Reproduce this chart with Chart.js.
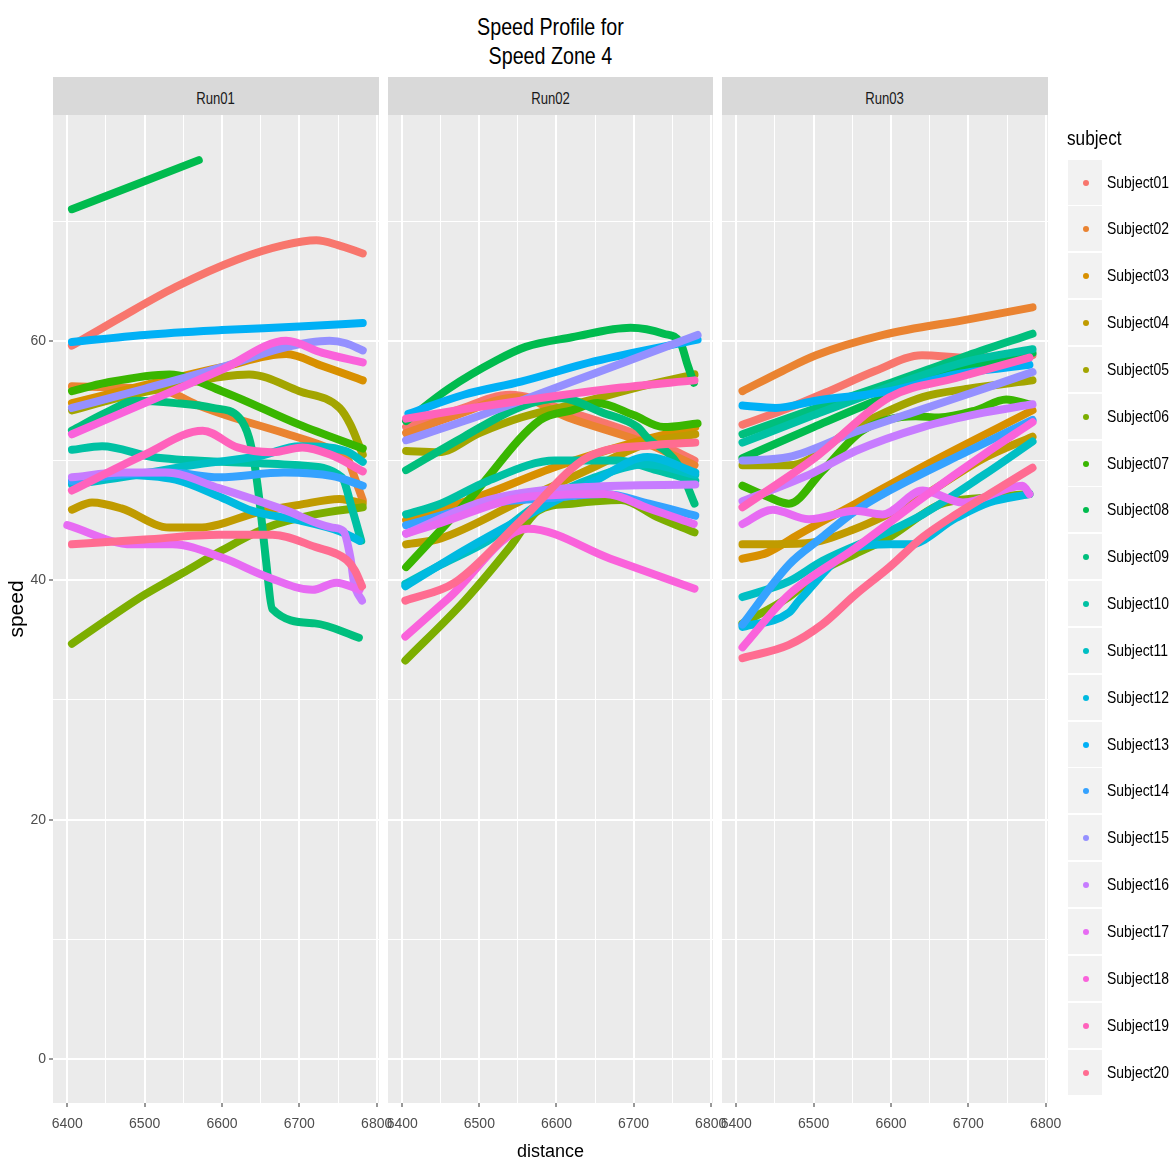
<!DOCTYPE html>
<html>
<head>
<meta charset="utf-8">
<script src="https://cdn.jsdelivr.net/npm/chart.js@4.4.1/dist/chart.umd.min.js"></script>
<style>
  body { margin: 0; background: #ffffff; }
  #page { position: relative; width: 1175px; height: 1163px; overflow: hidden;
          font-family: 'Liberation Sans', Arial, sans-serif; }
  canvas { position: absolute; top: 115px; }
  .sq { display: inline-block; transform: scaleX(0.82); white-space: nowrap; }
  .title { position: absolute; left: 53px; width: 995px; top: 12px; text-align: center;
           font-size: 24px; line-height: 29px; color: #000; }
  .title .sq { transform-origin: center; }
  .strip { position: absolute; top: 77px; height: 38px; line-height: 44px; background: #D9D9D9;
           text-align: center; font-size: 16px; color: #1A1A1A; overflow: hidden; }
  .legend { position: absolute; left: 1067px; top: 125.5px; }
  .legend .head { font-size: 21px; height: 33px; color: #000; transform-origin: left; }
  .legend .row { position: relative; height: 46.85px; }
  .legend .key { position: absolute; left: 1px; top: 1px; width: 34px; height: 45px; background: #F2F2F2; }
  .legend .dot { position: absolute; left: 15px; top: 20px; width: 6px; height: 6px; border-radius: 50%; }
  .legend .lab { position: absolute; left: 40px; top: 0; line-height: 47px; font-size: 17px; color: #000;
                 transform-origin: left; }
</style>
</head>
<body>
<div id="page">
  <div class="title"><span class="sq">Speed Profile for</span><br><span class="sq">Speed Zone 4</span></div>
  <div class="strip" style="left:53px;width:326px"><span class="sq">Run01</span></div>
  <div class="strip" style="left:388px;width:325px"><span class="sq">Run02</span></div>
  <div class="strip" style="left:722px;width:326px"><span class="sq">Run03</span></div>
  <canvas id="run1" width="400" height="1048" style="left:0px"></canvas>
  <canvas id="run2" width="370" height="1048" style="left:370px"></canvas>
  <canvas id="run3" width="370" height="1048" style="left:704px"></canvas>
  <div class="legend" id="legend"><div class="head sq">subject</div></div>
</div>
<script>
/* ---------- subjects, runs, colours ---------- */
const subjects = ["Subject01","Subject02","Subject03","Subject04","Subject05","Subject06","Subject07",
  "Subject08","Subject09","Subject10","Subject11","Subject12","Subject13","Subject14","Subject15",
  "Subject16","Subject17","Subject18","Subject19","Subject20"];
const runs = ["Run01", "Run02", "Run03"];
const subjectColors = ["#F8766D","#EA8331","#D89000","#C09B00","#A3A500","#7CAE00","#39B600",
  "#00BB4E","#00BF7D","#00C1A3","#00BFC4","#00BAE0","#00B0F6","#35A2FF","#9590FF",
  "#C77CFF","#E76BF3","#FA62DB","#FF62BC","#FF6C91"];

/* ---------- axis ticks ---------- */
const xTicks = [6400, 6500, 6600, 6700, 6800];
const yTicks = [0, 20, 40, 60];

/* ---------- [distance, speed] per subject, Run01 ---------- */
const run01 = [
  [[6406,59.6],[6470,62.0],[6540,64.5],[6620,66.8],[6680,68.0],[6722,68.4],[6750,68.0],[6782,67.3]],
  [[6406,56.2],[6470,56.1],[6528,55.8],[6570,54.6],[6614,53.6],[6680,52.3],[6743,50.9],[6762,50.2],[6772,48.5],[6782,46.7]],
  [[6406,54.8],[6500,56.3],[6600,57.8],[6683,58.9],[6730,57.9],[6782,56.7]],
  [[6406,45.9],[6432,46.5],[6470,46.0],[6532,44.4],[6570,44.4],[6648,45.7],[6700,46.3],[6752,46.8],[6782,46.4]],
  [[6406,54.2],[6470,55.3],[6550,56.4],[6600,57.0],[6635,57.2],[6700,55.8],[6752,54.4],[6766,53.0],[6782,50.5]],
  [[6406,34.7],[6500,38.8],[6549,40.6],[6600,42.5],[6658,44.4],[6720,45.5],[6782,46.1]],
  [[6406,55.8],[6450,56.5],[6532,57.2],[6600,55.8],[6700,53.0],[6782,51.0]],
  [[6406,71.0],[6570,75.1]],
  [[6406,52.5],[6450,54.0],[6488,55.0],[6540,54.8],[6588,54.4],[6622,53.6],[6635,51.9],[6642,49.7],[6648,46.9],[6657,41.6],[6665,37.6],[6720,36.4],[6777,35.2]],
  [[6406,50.9],[6445,51.2],[6510,50.3],[6600,49.9],[6700,49.6],[6755,48.6],[6768,46.0],[6780,43.3]],
  [[6406,48.0],[6470,48.6],[6560,49.6],[6650,50.4],[6700,51.2],[6760,50.8],[6782,49.9]],
  [[6406,48.2],[6470,48.8],[6540,48.4],[6600,46.9],[6639,45.8],[6700,45.0],[6752,44.1],[6778,43.3]],
  [[6406,59.9],[6500,60.5],[6600,60.9],[6700,61.2],[6782,61.5]],
  [[6406,48.3],[6480,48.9],[6532,49.0],[6596,48.6],[6680,49.0],[6743,48.7],[6782,47.9]],
  [[6406,54.4],[6500,56.0],[6600,57.8],[6678,59.4],[6739,60.0],[6760,59.8],[6782,59.2]],
  [[6406,48.6],[6470,49.0],[6527,49.0],[6596,47.7],[6680,45.9],[6743,44.4],[6757,44.1],[6766,41.9],[6771,39.7],[6781,38.3]],
  [[6400,44.6],[6484,43.0],[6536,43.0],[6600,41.9],[6658,40.3],[6717,39.2],[6748,39.8],[6778,39.2]],
  [[6406,52.2],[6500,54.8],[6600,57.6],[6683,60.0],[6730,59.0],[6782,58.2]],
  [[6406,47.5],[6500,50.5],[6575,52.5],[6620,51.1],[6665,50.7],[6704,51.1],[6740,50.5],[6782,49.1]],
  [[6406,43.0],[6500,43.4],[6596,43.8],[6665,43.8],[6720,42.8],[6761,41.7],[6772,40.8],[6781,39.5]]
];

/* ---------- Run02 ---------- */
const run02 = [
  [[6405,52.8],[6470,54.2],[6540,55.5],[6620,54.0],[6720,51.8],[6779,50.0]],
  [[6405,52.3],[6470,53.8],[6550,55.3],[6615,53.6],[6718,51.4],[6779,49.6]],
  [[6405,45.0],[6500,47.0],[6600,49.5],[6700,51.5],[6780,52.8]],
  [[6405,43.0],[6450,43.5],[6550,46.5],[6650,49.5],[6720,51.5],[6780,52.2]],
  [[6405,50.8],[6447,50.7],[6500,52.3],[6554,53.6],[6641,55.0],[6710,56.2],[6779,57.2]],
  [[6404,33.3],[6481,38.3],[6540,42.8],[6576,45.8],[6620,46.4],[6684,46.7],[6730,45.3],[6779,44.0]],
  [[6405,41.1],[6490,47.0],[6579,53.4],[6620,54.2],[6653,54.8],[6700,53.8],[6739,52.8],[6783,53.1]],
  [[6405,53.3],[6460,56.0],[6523,58.4],[6560,59.5],[6620,60.3],[6696,61.1],[6739,60.6],[6761,59.8],[6770,58.0],[6778,56.5]],
  [[6405,49.2],[6480,52.0],[6554,54.5],[6606,55.2],[6660,54.0],[6705,52.8],[6718,51.9],[6757,49.7],[6779,46.4]],
  [[6405,45.5],[6450,46.4],[6511,48.3],[6598,50.0],[6680,50.0],[6730,49.2],[6780,48.3]],
  [[6404,39.7],[6450,41.3],[6511,43.3],[6580,46.5],[6650,48.6],[6718,49.7],[6780,48.8]],
  [[6404,39.5],[6480,42.5],[6550,45.0],[6650,48.3],[6718,50.3],[6780,49.0]],
  [[6408,53.9],[6480,55.5],[6554,56.6],[6650,58.3],[6783,60.1]],
  [[6405,44.6],[6511,46.4],[6598,46.9],[6663,47.2],[6720,46.4],[6780,45.4]],
  [[6405,51.7],[6480,53.3],[6554,55.0],[6650,57.3],[6783,60.5]],
  [[6405,43.9],[6511,46.7],[6641,47.8],[6780,48.0]],
  [[6405,43.9],[6450,44.8],[6554,46.9],[6663,47.2],[6720,46.0],[6778,44.7]],
  [[6404,35.3],[6460,38.5],[6563,44.3],[6670,41.8],[6779,39.3]],
  [[6405,53.5],[6480,54.3],[6554,55.0],[6684,56.1],[6779,56.7]],
  [[6404,38.3],[6468,39.8],[6554,45.0],[6641,50.3],[6727,51.3],[6780,51.5]]
];

/* ---------- Run03 ---------- */
const run03 = [
  [[6408,53.0],[6460,54.2],[6520,55.8],[6580,57.5],[6640,58.8],[6700,58.6],[6783,58.8]],
  [[6408,55.8],[6460,57.5],[6503,58.8],[6590,60.5],[6700,61.8],[6783,62.8]],
  [[6408,41.8],[6440,42.3],[6480,43.8],[6554,46.4],[6650,49.8],[6783,54.2]],
  [[6408,43.0],[6490,43.1],[6550,44.2],[6640,47.0],[6720,50.2],[6783,52.0]],
  [[6408,49.6],[6468,49.6],[6554,52.8],[6641,55.3],[6700,56.0],[6783,56.7]],
  [[6408,36.4],[6468,38.6],[6511,40.8],[6554,42.2],[6598,43.6],[6662,46.3],[6720,46.9],[6779,47.2]],
  [[6408,47.9],[6440,47.0],[6468,46.4],[6511,49.1],[6563,52.5],[6632,53.7],[6662,53.6],[6710,54.2],[6749,55.1],[6779,54.7]],
  [[6408,50.2],[6500,52.8],[6600,55.5],[6700,57.8],[6783,59.0]],
  [[6408,52.2],[6500,54.3],[6600,56.5],[6700,58.8],[6783,60.6]],
  [[6408,51.5],[6500,53.8],[6600,56.2],[6700,58.3],[6783,59.3]],
  [[6408,38.6],[6468,39.9],[6511,41.6],[6598,44.1],[6641,45.5],[6720,48.8],[6783,51.6]],
  [[6408,36.1],[6468,37.3],[6481,38.3],[6554,42.7],[6598,43.0],[6624,43.0],[6684,45.2],[6727,46.5],[6779,47.2]],
  [[6408,54.6],[6451,54.4],[6503,55.0],[6598,55.8],[6684,57.2],[6779,58.0]],
  [[6408,36.3],[6468,41.3],[6511,43.6],[6554,45.8],[6598,47.5],[6700,50.8],[6783,53.4]],
  [[6408,50.0],[6468,50.3],[6554,52.4],[6641,54.3],[6720,56.0],[6783,57.4]],
  [[6408,46.6],[6500,49.0],[6554,50.8],[6641,52.8],[6720,54.0],[6783,54.7]],
  [[6408,44.7],[6447,45.9],[6494,45.1],[6554,45.8],[6589,45.5],[6641,47.5],[6693,46.5],[6770,47.9],[6779,47.2]],
  [[6408,34.4],[6468,38.8],[6554,42.7],[6641,46.9],[6720,50.5],[6783,53.2]],
  [[6408,46.1],[6503,50.3],[6598,55.3],[6684,56.9],[6779,58.6]],
  [[6408,33.5],[6468,34.6],[6511,36.3],[6554,38.8],[6598,41.1],[6641,43.6],[6684,45.5],[6727,47.2],[6783,49.4]]
];

const runData = [run01, run02, run03];

Chart.defaults.font.family = "'Liberation Sans', Arial, sans-serif";

/* ---------- grey panel background ---------- */
const panelBg = {
  id: "panelBg",
  beforeDraw(chart) {
    const { ctx, chartArea: a } = chart;
    ctx.save();
    ctx.fillStyle = "#EBEBEB";
    ctx.fillRect(a.left, a.top, a.width, a.height);
    ctx.restore();
  }
};

// keep every panel exactly the same size: no automatic label padding
const noPad = s => { s.paddingTop = 0; s.paddingBottom = 0; s.paddingLeft = 0; s.paddingRight = 0; };

function makeChart(id, idx, pad) {
  const first = idx === 0;
  const datasets = runData[idx].map((pts, i) => ({
    label: subjects[i],
    data: pts.map(p => ({ x: p[0], y: p[1] })),
    borderColor: subjectColors[i],
    backgroundColor: subjectColors[i],
    borderWidth: 8,
    borderCapStyle: "round",
    borderJoinStyle: "round",
    pointRadius: 0,
    cubicInterpolationMode: "monotone",
    order: subjects.length - i
  }));
  return new Chart(document.getElementById(id), {
    type: "line",
    data: { datasets },
    plugins: [panelBg],
    options: {
      responsive: false,
      animation: false,
      layout: { padding: pad },
      plugins: { legend: { display: false }, tooltip: { enabled: false } },
      scales: {
        x: {
          type: "linear",
          min: 6381.5,
          max: 6803,
          afterFit: s => { s.height = 60; noPad(s); },
          border: { display: false },
          grid: {
            color: "#FFFFFF",
            lineWidth: c => (xTicks.includes(c.tick.value) ? 2 : 1),
            tickLength: 4,
            tickWidth: 1,
            tickColor: c => (xTicks.includes(c.tick.value) ? "#333333" : "rgba(0,0,0,0)")
          },
          ticks: {
            stepSize: 50,
            includeBounds: false,
            autoSkip: false,
            maxRotation: 0,
            padding: 9,
            color: "#4D4D4D",
            font: { size: 14 },
            callback: v => (xTicks.includes(v) ? String(v) : "")
          },
          title: {
            display: idx === 1,
            text: "distance",
            color: "#000000",
            font: { size: 18 },
            padding: { top: 0, bottom: 0 }
          }
        },
        y: {
          type: "linear",
          min: -3.67,
          max: 78.87,
          afterFit: s => { s.width = first ? 53 : 0; noPad(s); },
          border: { display: false },
          grid: {
            color: "#FFFFFF",
            lineWidth: c => (yTicks.includes(c.tick.value) ? 2 : 1),
            tickLength: 4,
            tickWidth: 1,
            tickColor: c => (first && yTicks.includes(c.tick.value) ? "#333333" : "rgba(0,0,0,0)")
          },
          ticks: {
            display: first,
            stepSize: 10,
            includeBounds: false,
            padding: 3,
            color: "#4D4D4D",
            font: { size: 14 },
            callback: v => (yTicks.includes(v) ? String(v) : "")
          },
          title: {
            display: first,
            text: "speed",
            color: "#000000",
            font: { size: 21 },
            padding: { top: 5, bottom: 0 }
          }
        }
      }
    }
  });
}

makeChart("run1", 0, { left: 0, right: 21, top: 0, bottom: 0 });
makeChart("run2", 1, { left: 18, right: 27, top: 0, bottom: 0 });
makeChart("run3", 2, { left: 18, right: 26, top: 0, bottom: 0 });

/* ---------- legend ---------- */
const legend = document.getElementById("legend");
subjects.forEach((name, i) => {
  const row = document.createElement("div");
  row.className = "row";
  row.innerHTML = '<div class="key"><div class="dot" style="background:' + subjectColors[i] +
    '"></div></div><div class="lab sq">' + name + "</div>";
  legend.appendChild(row);
});
</script>
</body>
</html>
